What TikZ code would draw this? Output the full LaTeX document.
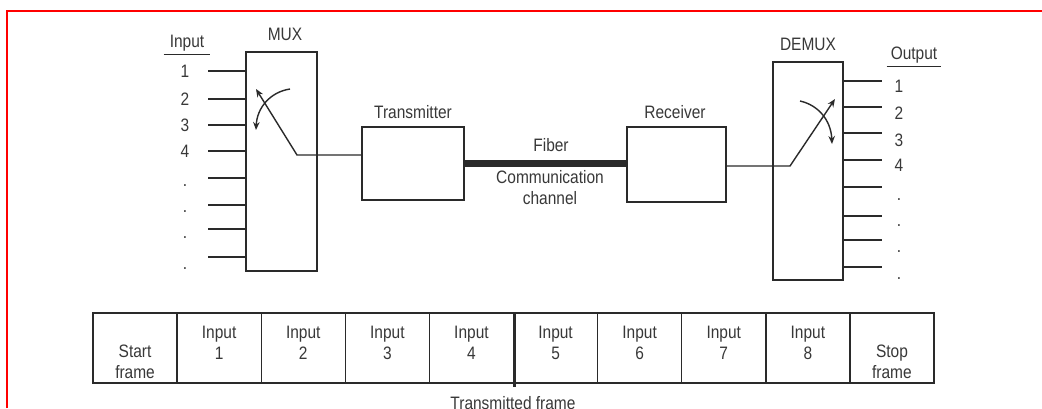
\documentclass[tikz,border=0pt]{standalone}
\usepackage{fontspec}
\setmainfont{Liberation Sans}[FakeStretch=0.86]
\usetikzlibrary{arrows.meta,calc}
\definecolor{ink}{HTML}{2a2a2a}
\definecolor{txt}{HTML}{383838}
\definecolor{redframe}{HTML}{FF0000}
\begin{document}
\begin{tikzpicture}[x=1pt,y=-1pt,
  lbl/.style={text=txt,font=\fontsize{18}{21}\selectfont,inner sep=0pt,align=center},
  box/.style={draw=ink,line width=1.4pt,fill=white,inner sep=0pt},
  wire/.style={draw=ink,line width=1.4pt},
  tip/.style={-{Stealth[length=8pt,width=6.5pt]}},
  uline/.style={draw=ink,line width=1.4pt}
]
\useasboundingbox (0,0) rectangle (1042,408);
\draw[redframe,line width=2pt] (7,408) -- (7,11) -- (1042,11);

% boxes
\node[box,minimum width=71pt,minimum height=219pt] (mux) at (281.5,161.5) {};
\node[box,minimum width=102pt,minimum height=73pt] (tx) at (413,163.5) {};
\node[box,minimum width=99pt,minimum height=75pt] (rx) at (676.5,164.5) {};
\node[box,minimum width=70pt,minimum height=218pt] (demux) at (808,171) {};

% labels
\node[lbl] (muxlab) at (285,34) {MUX};
\node[lbl] (txlab) at (413,112) {Transmitter};
\node[lbl] (rxlab) at (675,112) {Receiver};
\node[lbl] (demuxlab) at (808,44) {DEMUX};
\node[lbl,inner xsep=6pt,inner ysep=3pt] (inlab) at (187,43) {Input};
\draw[uline] (inlab.south west) -- (inlab.south east);
\node[lbl,inner xsep=4pt,inner ysep=3pt] (outlab) at (914,55) {Output};
\draw[uline] (outlab.south west) -- (outlab.south east);

% input stubs
\foreach \i/\y in {1/71,2/99,3/125,4/151,5/178,6/205,7/229,8/257}{
  \coordinate (in\i) at (208,\y);
  \draw[wire] (in\i) -- (in\i -| mux.west);
}
\foreach \i/\y in {1/71,2/99,3/125,4/151}{
  \node[lbl] (inn\i) at (185,\y) {\i};
}
\foreach \i/\y in {5/186,6/212,7/238,8/269}{
  \node[lbl,anchor=base] (inn\i) at (185,\y) {.};
}

% output stubs
\foreach \i/\y in {1/81,2/107,3/133,4/160,5/187,6/216,7/240,8/267}{
  \coordinate (out\i) at (882,\y);
  \draw[wire] (out\i -| demux.east) -- (out\i);
}
\foreach \i/\y in {1/86,2/113,3/140,4/165}{
  \node[lbl] (outn\i) at (899,\y) {\i};
}
\foreach \i/\y in {5/200,6/226,7/252,8/279}{
  \node[lbl,anchor=base] (outn\i) at (899,\y) {.};
}

% MUX switch
\coordinate (mk) at (297,155);
\coordinate (mtip) at (256,89);
\draw[wire,tip] (mk -| tx.west) -- (mk) -- (mtip);
\coordinate (mc1) at (290,89);
\coordinate (mc2) at (256,130);
\draw[wire,tip] (mc1) .. controls (270,92) and (257,108) .. (mc2);

% fiber
\draw[ink,line width=6.5pt] (tx.east) -- (tx.east -| rx.west);
\node[lbl] (fib) at (551,145) {Fiber};
\node[lbl] (comm) at (550,187.5) {Communication\\channel};

% DEMUX switch
\coordinate (dk) at (790,166);
\coordinate (dtip) at (835,99);
\draw[wire,tip] (dk -| rx.east) -- (dk) -- (dtip);
\coordinate (dc1) at (800,101);
\coordinate (dc2) at (832,144);
\draw[wire,tip] (dc1) .. controls (818,105) and (831,120) .. (dc2);

% frame
\foreach \i in {0,...,9}{
  \node[box,minimum width=84.1pt,minimum height=70pt] (c\i) at ({93+84.1*\i+42.05},348) {};
}
\draw[ink,line width=3pt] (c4.north east) -- ([yshift=-3pt]c4.south east);
\node[lbl] (t0) at ($(c0.center)+(0,13.5)$) {Start\\frame};
\foreach \i in {1,...,8}{
  \node[lbl] (t\i) at ($(c\i.center)+(0,-5.5)$) {Input\\\i};
}
\node[lbl] (t9) at ($(c9.center)+(0,13.5)$) {Stop\\frame};
\node[lbl] (tf) at (513,403) {Transmitted frame};
\end{tikzpicture}
\end{document}
